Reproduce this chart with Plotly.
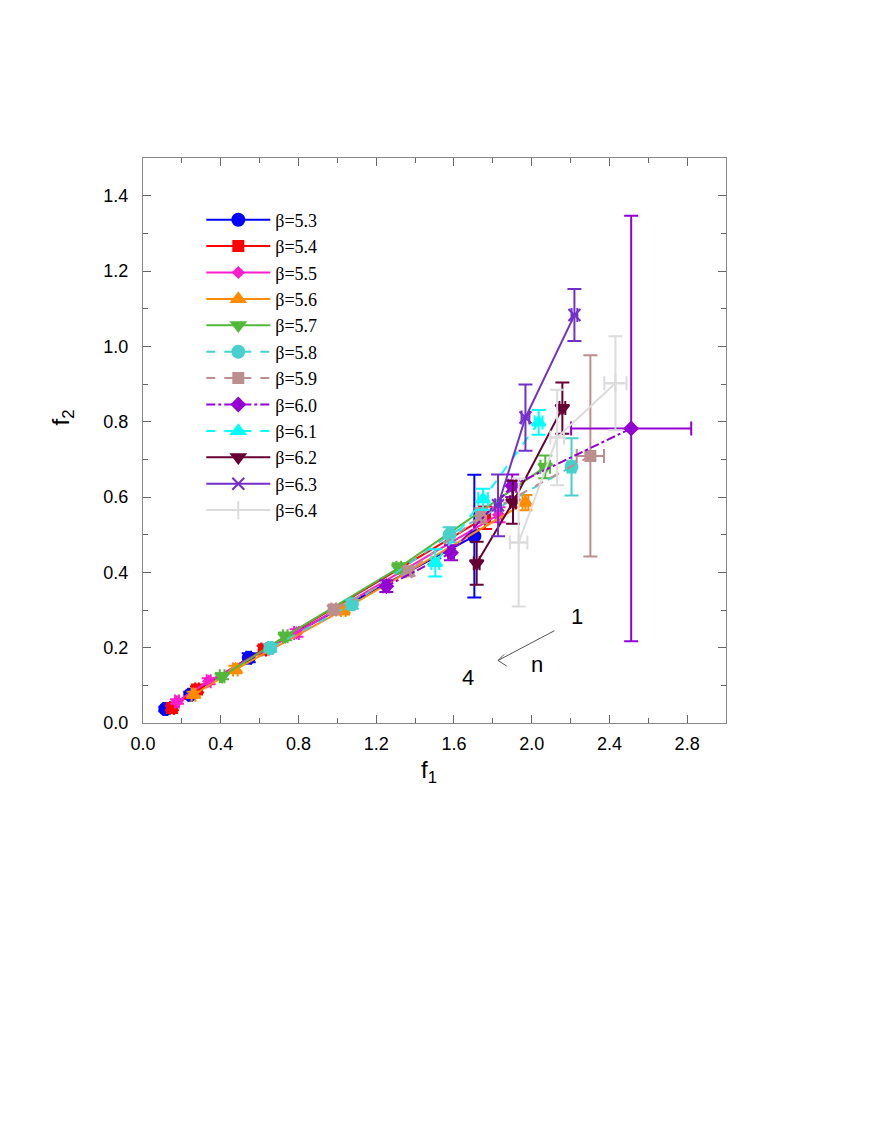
import plotly.graph_objects as go

# beta values of each series
betas = ['5.3', '5.4', '5.5', '5.6', '5.7', '5.8', '5.9', '6.0', '6.1', '6.2', '6.3', '6.4']

# f1, f2 and their errors, points ordered n=1 .. n=4
f1 = {
    '5.3': [1.705, 0.544, 0.243, 0.115],
    '5.4': [1.76, 0.621, 0.278, 0.149],
    '5.5': [1.83, 0.79, 0.338, 0.175],
    '5.6': [1.968, 1.03, 0.475, 0.26],
    '5.7': [2.07, 1.316, 0.732, 0.407],
    '5.8': [2.205, 1.578, 1.075, 0.655],
    '5.9': [2.302, 1.74, 1.367, 0.981],
    '6.0': [2.512, 1.90, 1.585, 1.252],
    '6.1': [2.036, 1.75, 1.504],
    '6.2': [2.158, 1.904, 1.717],
    '6.3': [2.22, 1.968, 1.827],
    '6.4': [2.431, 2.131, 1.933],
}
f2 = {
    '5.3': [0.496, 0.173, 0.075, 0.037],
    '5.4': [0.545, 0.195, 0.089, 0.040],
    '5.5': [0.553, 0.239, 0.111, 0.057],
    '5.6': [0.585, 0.30, 0.142, 0.075],
    '5.7': [0.68, 0.412, 0.230, 0.124],
    '5.8': [0.68, 0.50, 0.315, 0.199],
    '5.9': [0.709, 0.55, 0.403, 0.301],
    '6.0': [0.782, 0.63, 0.452, 0.363],
    '6.1': [0.798, 0.594, 0.425],
    '6.2': [0.836, 0.586, 0.424],
    '6.3': [1.083, 0.811, 0.578],
    '6.4': [0.902, 0.758, 0.479],
}
f1_err = {
    '5.3': [0.012, 0.012, 0.01, 0.01],
    '5.4': [0.015, 0.012, 0.01, 0.01],
    '5.5': [0.015, 0.012, 0.01, 0.01],
    '5.6': [0.015, 0.012, 0.012, 0.01],
    '5.7': [0.025, 0.012, 0.012, 0.012],
    '5.8': [0.02, 0.015, 0.012, 0.012],
    '5.9': [0.07, 0.02, 0.015, 0.012],
    '6.0': [0.309, 0.02, 0.015, 0.015],
    '6.1': [0.02, 0.025, 0.02],
    '6.2': [0.015, 0.015, 0.015],
    '6.3': [0.015, 0.02, 0.015],
    '6.4': [0.057, 0.035, 0.045],
}
f2_err = {
    '5.3': [0.163, 0.012, 0.008, 0.006],
    '5.4': [0.03, 0.01, 0.008, 0.006],
    '5.5': [0.02, 0.01, 0.008, 0.006],
    '5.6': [0.02, 0.012, 0.01, 0.008],
    '5.7': [0.03, 0.012, 0.01, 0.008],
    '5.8': [0.076, 0.02, 0.012, 0.01],
    '5.9': [0.267, 0.02, 0.012, 0.01],
    '6.0': [0.565, 0.03, 0.02, 0.015],
    '6.1': [0.033, 0.028, 0.036],
    '6.2': [0.068, 0.057, 0.057],
    '6.3': [0.069, 0.088, 0.082],
    '6.4': [0.125, 0.127, 0.17],
}

colors = ['#0000ff', '#ff0000', '#ff1dce', '#ff8c00', '#52b83a', '#48d1cc',
          '#bc8f8f', '#9400d3', '#00ffff', '#660033', '#7330c8', '#dcdcdc']
symbols = ['circle', 'square', 'diamond', 'triangle-up', 'triangle-down', 'circle',
           'square', 'diamond', 'triangle-up', 'triangle-down', 'x-thin-open', 'cross-thin-open']
sizes = [12, 10, 8, 12, 12, 12, 10, 10, 12, 12, 12, 13]
dashes = ['solid', 'solid', 'solid', 'solid', 'solid', 'dash', 'dash', 'dashdot',
          'dash', 'solid', 'solid', 'solid']

fig = go.Figure()
for i, b in enumerate(betas):
    c = colors[i]
    fig.add_trace(go.Scatter(
        x=f1[b], y=f2[b],
        mode='lines+markers',
        name='\u03b2=' + b,
        line={'color': c, 'width': 2, 'dash': dashes[i]},
        marker={'symbol': symbols[i], 'size': sizes[i], 'color': c,
                'line': {'color': c, 'width': 2}},
        error_x={'type': 'data', 'array': f1_err[b], 'color': c, 'thickness': 2, 'width': 7},
        error_y={'type': 'data', 'array': f2_err[b], 'color': c, 'thickness': 2, 'width': 7},
    ))

axis_common = dict(
    showgrid=False, zeroline=False, showline=True, linecolor='#888888', linewidth=1,
    mirror='ticks', ticks='inside', ticklen=8, tickcolor='#666666', tickwidth=1,
    tickfont={'family': 'Liberation Sans, Arial', 'size': 18, 'color': 'black'},
    tickformat='.1f',
)
fig.update_xaxes(range=[0, 3.0], dtick=0.4, tick0=0, ticklabelstandoff=4,
                 minor={'dtick': 0.2, 'ticks': 'inside', 'ticklen': 5, 'tickcolor': '#666666'},
                 **axis_common)
fig.update_yaxes(range=[0, 1.5], dtick=0.2, tick0=0, ticklabelstandoff=10,
                 minor={'dtick': 0.1, 'ticks': 'inside', 'ticklen': 5, 'tickcolor': '#666666'},
                 **axis_common)

sans = {'family': 'Liberation Sans, Arial', 'size': 24, 'color': 'black'}
fig.add_annotation(text='f<sub>1</sub>', xref='paper', yref='paper', x=0.49, y=-0.085,
                   xanchor='center', yanchor='middle', showarrow=False, font=sans)
fig.add_annotation(text='f<sub>2</sub>', xref='paper', yref='paper', x=-0.138, y=0.54,
                   xanchor='center', yanchor='middle', showarrow=False, font=sans, textangle=-90)
lab = {'family': 'Liberation Sans, Arial', 'size': 22, 'color': 'black'}
fig.add_annotation(text='1', x=2.234, y=0.282, showarrow=False, font=lab)
fig.add_annotation(text='4', x=1.674, y=0.122, showarrow=False, font=lab)
fig.add_annotation(text='n', x=2.028, y=0.155, showarrow=False, font=lab)
arrow = {'color': '#555555', 'width': 1}
fig.add_shape(type='line', x0=2.117, y0=0.245, x1=1.827, y1=0.166, line=arrow)
fig.add_shape(type='line', x0=1.827, y0=0.166, x1=1.858, y1=0.182, line=arrow)
fig.add_shape(type='line', x0=1.827, y0=0.166, x1=1.872, y1=0.151, line=arrow)

fig.update_layout(
    width=879, height=1138,
    margin={'l': 135, 'r': 161, 't': 150, 'b': 423},
    plot_bgcolor='white', paper_bgcolor='white',
    legend={'x': 0.1, 'y': 0.923, 'xanchor': 'left', 'yanchor': 'top',
            'bgcolor': 'rgba(0,0,0,0)', 'itemwidth': 64,
            'font': {'family': 'Liberation Serif, Times New Roman', 'size': 18, 'color': 'black'}},
)

fig.write_html('out.html')
